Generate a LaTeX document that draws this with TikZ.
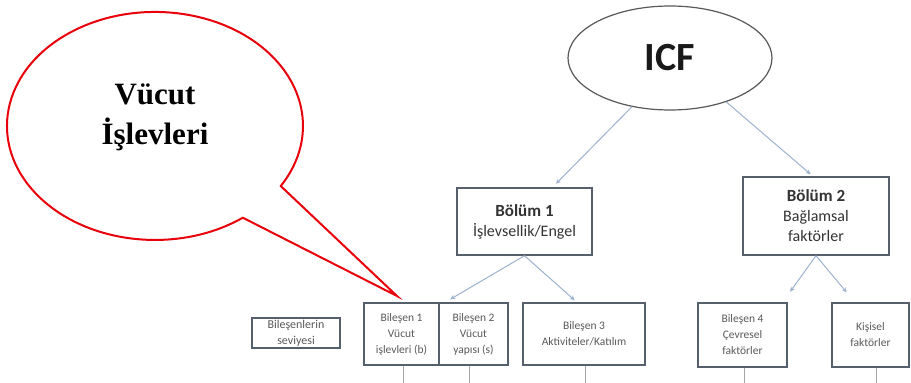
\documentclass[tikz,border=0pt]{standalone}
\usepackage{fontspec}
\setmainfont{Carlito}
\newfontfamily\calloutfont{Liberation Serif}
\usetikzlibrary{arrows.meta,shapes.geometric}
\definecolor{boxline}{HTML}{56606C}
\definecolor{arrowc}{HTML}{9CB2CE}
\definecolor{txtgray}{HTML}{5A5A5A}
\definecolor{callred}{HTML}{E8000B}
\begin{document}
\begin{tikzpicture}[x=1pt,y=-1pt,
  bigbox/.style={draw=boxline, line width=1.4pt, inner sep=0pt, align=center,
    font=\fontsize{16}{20}\selectfont, text=black!80},
  smallbox/.style={draw=boxline, line width=1.3pt, inner sep=0pt, align=center,
    font=\fontsize{11.5}{16}\selectfont, text=txtgray},
  conn/.style={draw=arrowc, line width=1pt, -{Stealth[length=5pt,width=4.5pt]}},
  stem/.style={draw=black!35, line width=0.8pt}]
\useasboundingbox (0,0) rectangle (911,383);
\fill[white] (0,0) rectangle (911,383);

% callout
\draw[callred, line width=2pt, line join=miter]
  (280.8,186.1) -- (397,296) -- (242.8,217.7)
  arc[start angle=-53.6, end angle=-391.8, x radius=148pt, y radius=114pt] -- cycle;
\node[font=\calloutfont\bfseries\fontsize{31}{40}\selectfont, align=center] (callt) at (155,117) {Vücut\\İşlevleri};

% top
\node[ellipse, draw=black!65, line width=1.2pt, minimum width=204pt, minimum height=104pt,
  inner sep=0pt, font=\bfseries\fontsize{40}{40}\selectfont, text=black!90] (icf) at (670,58) {ICF};

\node[bigbox, minimum width=135pt, minimum height=67pt] (b1) at (524.5,221.5)
  {{\bfseries\fontsize{17}{20}\selectfont Bölüm 1}\\İşlevsellik/Engel};
\node[bigbox, minimum width=146pt, minimum height=78pt] (b2) at (816,216)
  {{\bfseries\fontsize{17}{20}\selectfont Bölüm 2}\\Bağlamsal\\faktörler};

% bottom boxes
\node[smallbox, minimum width=88pt, minimum height=30pt, font=\fontsize{12}{15}\selectfont] (lev) at (296,333)
  {Bileşenlerin\\[1pt]seviyesi};
\node[smallbox, minimum width=75pt, minimum height=62pt] (bil1) at (401.5,334)
  {Bileşen 1\\Vücut\\işlevleri (b)};
\node[smallbox, minimum width=69pt, minimum height=62pt] (bil2) at (473.5,334)
  {Bileşen 2\\Vücut\\yapısı (s)};
\node[smallbox, minimum width=122pt, minimum height=62pt] (bil3) at (584,334)
  {Bileşen 3\\Aktiviteler/Katılım};
\node[smallbox, minimum width=89pt, minimum height=64pt] (bil4) at (742.5,335)
  {Bileşen 4\\Çevresel\\faktörler};
\node[smallbox, minimum width=77pt, minimum height=64pt] (kis) at (870.5,335)
  {Kişisel\\faktörler};

% connectors
\draw[conn, shorten >=5pt] (icf.232) -- ([xshift=28pt]b1.north);
\draw[conn, shorten >=3pt] (icf.-38) -- ([xshift=-3pt]b2.north);
\draw[conn, shorten >=6pt] (b1.south) -- ([xshift=-28.5pt]bil2.north);
\draw[conn, shorten >=3pt] (b1.south) -- ([xshift=-7pt]bil3.north);
\draw[conn, shorten >=13pt] (b2.south) -- ([xshift=40pt]bil4.north);
\draw[conn, shorten >=13pt] (b2.south) -- ([xshift=-15.5pt]kis.north);

% stems
\coordinate (s1) at (403,383);
\coordinate (s2) at (469,383);
\coordinate (s3) at (585,383);
\coordinate (s4) at (744,383);
\coordinate (s5) at (876,383);
\draw[stem] (bil1.south -| s1) -- (s1);
\draw[stem] (bil2.south -| s2) -- (s2);
\draw[stem] (bil3.south -| s3) -- (s3);
\draw[stem] (bil4.south -| s4) -- (s4);
\draw[stem] (kis.south -| s5) -- (s5);
\end{tikzpicture}
\end{document}
